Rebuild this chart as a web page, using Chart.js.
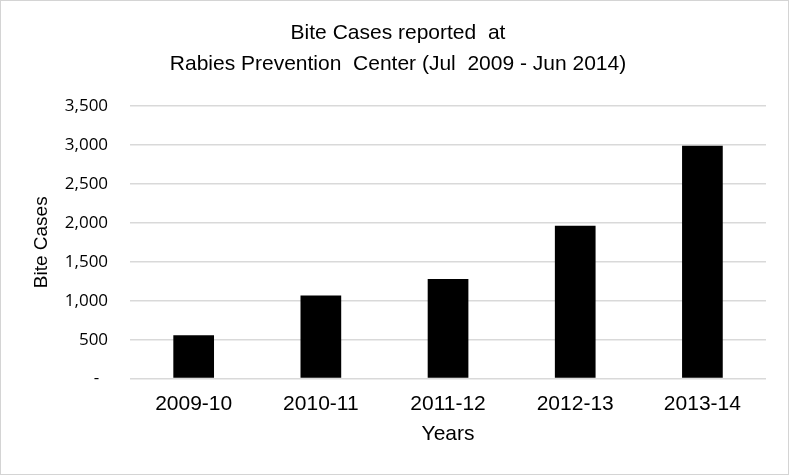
<!DOCTYPE html>
<html>
<head>
<meta charset="utf-8">
<script src="https://cdn.jsdelivr.net/npm/chart.js@4"></script>
<style>
  html, body { margin: 0; padding: 0; background: #fff; }
  #wrap { width: 789px; height: 475px; box-sizing: border-box; border: 1px solid #d4d4d4; position: relative; }
</style>
</head>
<body>
<div id="wrap"><canvas id="chart"></canvas></div>
<script>
// Data
const years = ['2009-10', '2010-11', '2011-12', '2012-13', '2013-14'];
const biteCases = [557, 1067, 1278, 1961, 2990];
const titleLines = ['Bite Cases reported  at', 'Rabies Prevention  Center (Jul  2009 - Jun 2014)'];

const sans = "'Liberation Sans', Arial, sans-serif";

const ctx = document.getElementById('chart').getContext('2d');
new Chart(ctx, {
    type: 'bar',
    data: {
        labels: years,
        datasets: [{
            label: 'Bite Cases',
            data: biteCases,
            backgroundColor: '#000000',
            barPercentage: 0.32,
            categoryPercentage: 1.0
        }]
    },
    options: {
        responsive: true,
        maintainAspectRatio: false,
        animation: false,
        layout: { padding: { left: 29, right: 22, bottom: 23 } },
        plugins: {
            legend: { display: false },
            tooltip: { enabled: false },
            title: {
                display: true,
                text: titleLines,
                color: '#000',
                font: { family: sans, size: 21, weight: 'normal', lineHeight: 1.5 },
                padding: { top: 16, bottom: 26 }
            }
        },
        scales: {
            x: {
                grid: { display: false },
                border: { display: false },
                ticks: { color: '#000', font: { family: sans, size: 21 }, padding: 5 },
                title: { display: true, text: 'Years', color: '#000', font: { family: sans, size: 21 }, padding: { top: 0 } }
            },
            y: {
                min: 0,
                max: 3500,
                grid: { color: '#d9d9d9', lineWidth: 1.5, drawTicks: false },
                border: { display: false },
                ticks: {
                    stepSize: 500,
                    color: '#000',
                    padding: 22,
                    font: { family: "'Open Sans', 'Noto Sans', sans-serif", size: 17 },
                    callback: function(value) { return value === 0 ? '-  ' : value.toLocaleString('en-US'); }
                },
                title: { display: true, text: 'Bite Cases', color: '#000', font: { family: sans, size: 19 }, padding: { top: 0, bottom: -10 } }
            }
        }
    }
});
</script>
</body>
</html>
